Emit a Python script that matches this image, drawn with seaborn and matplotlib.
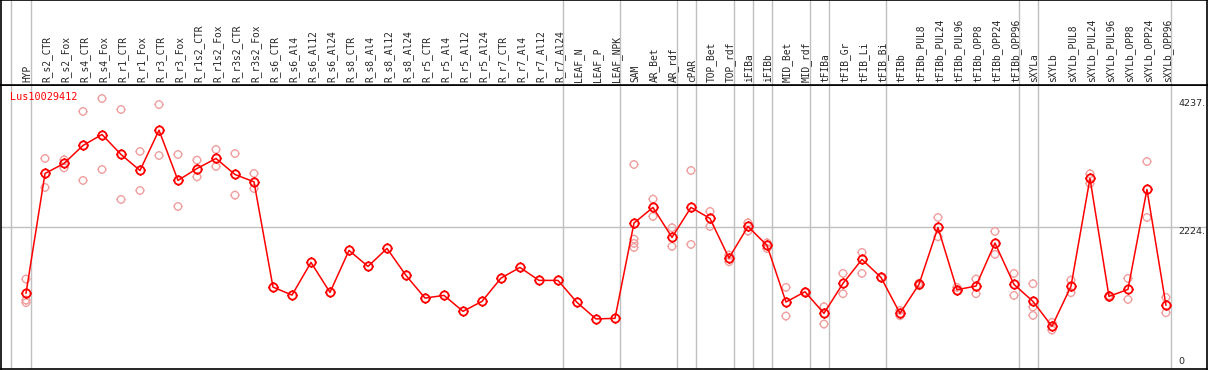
import matplotlib
matplotlib.use("Agg")
import matplotlib.pyplot as plt
import matplotlib.path as mpath
import numpy as np
import pandas as pd
import seaborn as sns

gene = "Lus10029412"

samples = ['HYP', 'R_s2_CTR', 'R_s2_Fox', 'R_s4_CTR', 'R_s4_Fox', 'R_r1_CTR', 'R_r1_Fox',
           'R_r3_CTR', 'R_r3_Fox', 'R_r1s2_CTR', 'R_r1s2_Fox', 'R_r3s2_CTR', 'R_r3s2_Fox',
           'R_s6_CTR', 'R_s6_Al4', 'R_s6_Al12', 'R_s6_Al24', 'R_s8_CTR', 'R_s8_Al4',
           'R_s8_Al12', 'R_s8_Al24', 'R_r5_CTR', 'R_r5_Al4', 'R_r5_Al12', 'R_r5_Al24',
           'R_r7_CTR', 'R_r7_Al4', 'R_r7_Al12', 'R_r7_Al24', 'LEAF_N', 'LEAF_P', 'LEAF_NPK',
           'SAM', 'AR_Bet', 'AR_rdf', 'cPAR', 'TOP_Bet', 'TOP_rdf', 'iFIBa', 'iFIBb',
           'MID_Bet', 'MID_rdf', 'tFIBa', 'tFIB_Gr', 'tFIB_Li', 'tFIB_Bi', 'tFIBb',
           'tFIBb_PUL8', 'tFIBb_PUL24', 'tFIBb_PUL96', 'tFIBb_OPP8', 'tFIBb_OPP24',
           'tFIBb_OPP96', 'sXYLa', 'sXYLb', 'sXYLb_PUL8', 'sXYLb_PUL24', 'sXYLb_PUL96',
           'sXYLb_OPP8', 'sXYLb_OPP24', 'sXYLb_OPP96']

# mean expression per sample
means = [1186, 3065, 3222, 3504, 3676, 3363, 3112, 3744, 2956, 3143, 3300, 3049, 2934,
         1284, 1159, 1671, 1201, 1859, 1608, 1890, 1467, 1112, 1154, 904, 1060,
         1425, 1592, 1389, 1389, 1044, 785, 794,
         2287, 2533, 2063, 2533, 2360, 1739, 2235, 1938,
         1050, 1211, 872, 1342, 1718, 1436, 872,
         1326, 2219, 1243, 1300, 1974, 1326,
         1060, 669, 1295, 2987, 1138, 1248, 2815, 998]

# replicate values (pale circles)
reps = [[1410, 1080, 1040], [3300, 2846], [3279, 3153], [4037, 2956], [4240, 3128],
        [4068, 2658], [3410, 2799], [4146, 3347], [3363, 2548], [3274, 3012],
        [3441, 3175], [3378, 2726], [3065, 2830],
        [], [], [], [], [], [], [], [], [], [], [], [], [], [], [], [], [], [], [],
        [3206, 2036, 1969, 1906], [2663, 2392], [2214, 1922], [3112, 1953],
        [2470, 2235], [1786, 1681], [2292, 2162], [1978, 1890],
        [1280, 830], [1211], [976, 705], [1499, 1180], [1828, 1499], [1436], [919, 835],
        [1345, 1305], [2376, 2073], [1280, 1222], [1410, 1180], [2157, 1797], [1499, 1154],
        [1337, 971, 841], [731, 611], [1394, 1196], [3060, 2908], [1150, 1125],
        [1420, 1091], [3253, 2376], [1123, 882]]

yticks = [0, 2224, 4237]
# group separators (after these sample indices)
seps = [-1, 0, 28, 31, 34, 35, 37, 38, 39, 41, 42, 45, 52, 53, 60]

idx = np.arange(len(samples))
df = pd.DataFrame({'pos': idx, 'mean': means})
rep_df = pd.DataFrame([(i, v) for i, r in enumerate(reps) for v in r], columns=['pos', 'val'])

sns.set_style("white")
plt.rcParams['font.family'] = ['DejaVu Sans Mono', 'DejaVu Sans']

# circle (polygon) with four tiny ticks
t = np.linspace(0, 2 * np.pi, 41)
verts = list(zip(np.cos(t), np.sin(t)))
codes = [mpath.Path.MOVETO] + [mpath.Path.LINETO] * (len(verts) - 1)
for a, b in [((0, 1), (0, 1.22)), ((0, -1), (0, -1.22)),
             ((1, 0), (1.22, 0)), ((-1, 0), (-1.22, 0))]:
    verts += [a, b]
    codes += [mpath.Path.MOVETO, mpath.Path.LINETO]
mk = mpath.Path(verts, codes)

W, H = 1209, 370
fig = plt.figure(figsize=(W / 100, H / 100), dpi=100)
x0, x1 = 1 / W, 1207 / W
ax = fig.add_axes([x0, 1 / H, x1 - x0, 284 / H])
axh = fig.add_axes([x0, 285 / H, x1 - x0, 85 / H])

xlim = (-1.316, 62.16)
ymax = max(max(r) for r in reps if r) * 1.05

for s in seps:
    xs = s + 0.25 if s >= 0 else -0.8
    ax.axvline(xs, color='#c0c0c0', lw=1, zorder=0)
    axh.axvline(xs, color='#c0c0c0', lw=1, zorder=0)
ax.axhline(yticks[1], color='#c0c0c0', lw=1, zorder=0)

sns.scatterplot(data=rep_df, x='pos', y='val', ax=ax, marker=mk, s=42,
                facecolor='none', edgecolor='#f0a0a0', linewidth=1.0, zorder=2)
sns.lineplot(data=df, x='pos', y='mean', ax=ax, color='#ff0000', lw=1.1,
             marker=mk, markersize=7.2, markerfacecolor='none',
             markeredgecolor='#ff0000', markeredgewidth=1.3, zorder=3)

ax.set_xlim(*xlim)
ax.set_ylim(0, ymax)
ax.set_xticks([])
ax.set_yticks([])
ax.set_xlabel('')
ax.set_ylabel('')
for sp in ax.spines.values():
    sp.set_visible(True)
    sp.set_color('black')
    sp.set_linewidth(1.2)

tr = ax.get_yaxis_transform()
ax.text(0.9765, yticks[2], f"{yticks[2]}.", transform=tr, ha='left', va='top',
        fontsize=6.8, family='DejaVu Sans')
ax.text(0.9765, yticks[1], f"{yticks[1]}.", transform=tr, ha='left', va='top',
        fontsize=6.8, family='DejaVu Sans')
ax.text(0.9765, 45, f"{yticks[0]}", transform=tr, ha='left', va='bottom',
        fontsize=6.8, family='DejaVu Sans')
ax.text(0.0075, 0.975, gene, transform=ax.transAxes, ha='left', va='top',
        color='#ff0000', fontsize=7.3)

axh.set_xlim(*xlim)
axh.set_ylim(0, 1)
axh.set_xticks([])
axh.set_yticks([])
for sp in axh.spines.values():
    sp.set_color('black')
    sp.set_linewidth(1.2)
for i, name in enumerate(samples):
    axh.text(i + 0.08, 0.035, name, rotation=90, ha='center', va='bottom', fontsize=6.9)

fig.savefig("out.png", dpi=100)
